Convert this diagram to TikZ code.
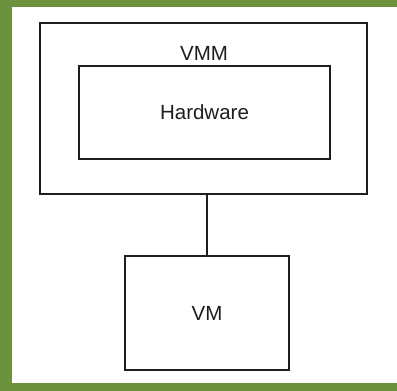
\documentclass[tikz,border=0pt]{standalone}
\usepackage{fontspec}
\setmainfont{Liberation Sans}
\definecolor{bggreen}{RGB}{108,146,62}
\definecolor{ink}{RGB}{30,30,34}
\begin{document}
\begin{tikzpicture}[x=1pt,y=1pt,
  boxstyle/.style={draw=ink,line width=1.6pt,fill=white,inner sep=0pt},
  lbl/.style={font=\fontsize{20.5}{22}\selectfont,text=ink}]
\useasboundingbox (0,0) rectangle (397,391);
\fill[bggreen] (0,0) rectangle (397,391);
\fill[white] (12,8) rectangle (397,384);
% outer VMM box
\node[boxstyle,minimum width=327pt,minimum height=171pt] (vmm) at (203.5,282.5) {};
\node[lbl] (vmmlbl) at (204,338) {VMM};
% Hardware box
\node[boxstyle,minimum width=251pt,minimum height=93pt] (hw) at (204.5,278.5) {};
\node[lbl] (hwlbl) at (hw.center) {Hardware};
% VM box
\node[boxstyle,minimum width=164pt,minimum height=114pt] (vm) at (207,78) {};
\node[lbl] (vmlbl) at (vm.center) {VM};
\draw[ink,line width=1.6pt] (vm.north) -- (vm.north |- vmm.south);
\end{tikzpicture}
\end{document}
